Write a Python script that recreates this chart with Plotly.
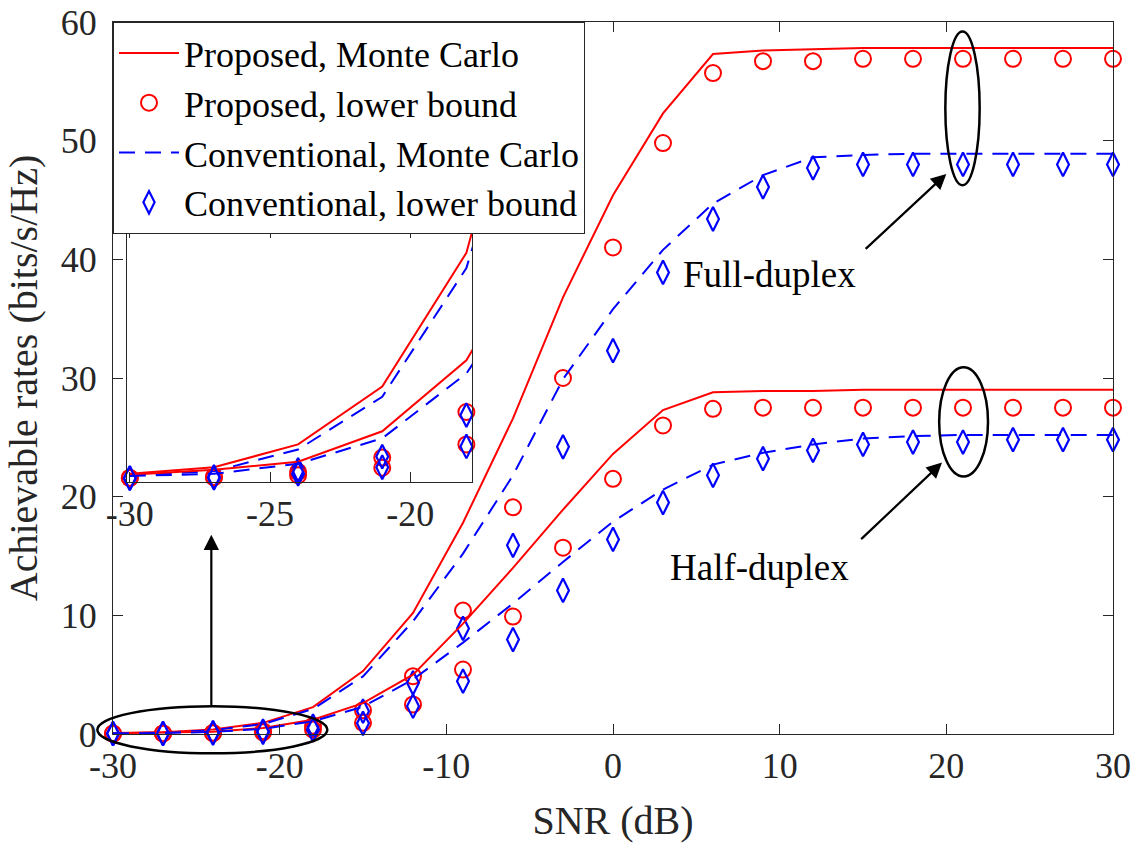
import plotly.graph_objects as go

# ---------------- data ----------------
snr_db = [-30, -27, -24, -21, -18, -15, -12, -9, -6, -3, 0, 3, 6, 9, 12, 15, 18, 21, 24, 27, 30]

# Full-duplex
fd_prop_mc = [0.08, 0.145, 0.37, 0.94, 2.26, 5.3, 10.2, 17.8, 26.6, 36.8, 45.4, 52.3, 57.3, 57.6, 57.7,
              57.8, 57.8, 57.8, 57.8, 57.8, 57.8]
fd_prop_lb = [0.04, 0.05, 0.10, 0.24, 0.69, 2.0, 4.87, 10.4, 19.1, 30.0, 41.0, 49.8, 55.7, 56.7, 56.7,
              56.9, 56.9, 56.9, 56.9, 56.9, 56.9]
fd_conv_mc = [0.066, 0.105, 0.32, 0.84, 2.11, 4.85, 9.5, 15.2, 21.8, 29.9, 35.8, 40.8, 44.7, 47.1, 48.6,
              48.8, 48.9, 48.9, 48.9, 48.9, 48.9]
fd_conv_lb = [0.04, 0.05, 0.12, 0.25, 0.66, 1.92, 4.31, 8.9, 15.9, 24.2, 32.3, 38.9, 43.4, 46.1, 47.7,
              48.0, 48.0, 48.0, 48.0, 48.0, 48.0]

# Half-duplex
hd_prop_mc = [0.072, 0.12, 0.2, 0.5, 1.2, 2.6, 5.0, 9.3, 14.0, 18.9, 23.6, 27.3, 28.8, 28.9, 28.9,
              29.0, 29.0, 29.0, 29.0, 29.0, 29.0]
hd_prop_lb = [0.04, 0.045, 0.066, 0.14, 0.37, 0.94, 2.49, 5.43, 9.9, 15.7, 21.5, 26.0, 27.4, 27.5, 27.5,
              27.5, 27.5, 27.5, 27.5, 27.5, 27.5]
hd_conv_mc = [0.059, 0.08, 0.18, 0.43, 1.07, 2.3, 4.6, 7.7, 11.0, 14.5, 17.9, 20.6, 22.7, 23.7, 24.4,
              24.9, 25.1, 25.2, 25.2, 25.2, 25.2]
hd_conv_lb = [0.035, 0.04, 0.08, 0.145, 0.35, 0.9, 2.34, 4.45, 7.96, 12.1, 16.4, 19.5, 21.8, 23.2, 23.9,
              24.4, 24.6, 24.6, 24.8, 24.8, 24.8]

legend_names = ["Proposed, Monte Carlo", "Proposed, lower bound",
                "Conventional, Monte Carlo", "Conventional, lower bound"]

x_tickvals = [-30, -20, -10, 0, 10, 20, 30]
x_ticktext = ["-30", "-20", "-10", "0", "10", "20", "30"]
y_tickvals = [0, 10, 20, 30, 40, 50, 60]
inset_x_tickvals = [-30, -25, -20]
inset_x_ticktext = ["-30", "-25", "-20"]

# ---------------- style ----------------
XR = [-30, 30]
YR = [0, 60]
IXR = [-30.1, -17.8]
IYR = [0, 2.5]
RED = "#ff0000"
BLUE = "#0000ff"
AX = "#262626"
FONT = "Liberation Serif"
LW = 2
DASH = "16px,10px"

fig = go.Figure()


def add_set(xa, ya, show_legend, marker_filter=None):
    groups = [(fd_prop_mc, fd_prop_lb, fd_conv_mc, fd_conv_lb),
              (hd_prop_mc, hd_prop_lb, hd_conv_mc, hd_conv_lb)]
    for gi, (pmc, plb, cmc, clb) in enumerate(groups):
        sl = show_legend and gi == 0
        if marker_filter is None:
            keep = list(range(len(snr_db)))
        else:
            keep = [i for i, v in enumerate(snr_db) if marker_filter(v)]
        mx = [snr_db[i] for i in keep]
        fig.add_trace(go.Scatter(x=snr_db, y=pmc, mode="lines", name=legend_names[0],
                                 line=dict(color=RED, width=LW), showlegend=sl,
                                 xaxis=xa, yaxis=ya, legendrank=1))
        fig.add_trace(go.Scatter(x=mx, y=[plb[i] for i in keep], mode="markers", name=legend_names[1],
                                 marker=dict(symbol="circle-open", size=16, color=RED,
                                             line=dict(width=2, color=RED)),
                                 showlegend=sl, cliponaxis=False, xaxis=xa, yaxis=ya, legendrank=2))
        fig.add_trace(go.Scatter(x=snr_db, y=cmc, mode="lines", name=legend_names[2],
                                 line=dict(color=BLUE, width=LW, dash=DASH), showlegend=sl,
                                 xaxis=xa, yaxis=ya, legendrank=3))
        fig.add_trace(go.Scatter(x=mx, y=[clb[i] for i in keep], mode="markers", name=legend_names[3],
                                 marker=dict(symbol="diamond-tall-open", size=17, color=BLUE,
                                             line=dict(width=2.2, color=BLUE)),
                                 showlegend=sl, cliponaxis=False, xaxis=xa, yaxis=ya, legendrank=4))


add_set("x", "y", True)
add_set("x2", "y2", False, marker_filter=lambda v: IXR[0] <= v <= IXR[1])


def px(v):
    return (v - XR[0]) / (XR[1] - XR[0])


def py(v):
    return (v - YR[0]) / (YR[1] - YR[0])


# ellipses (data-space extents converted to paper space so they are not clipped)
ellipses = [(19.94, 46.25, 22.0, 59.2), (19.57, 21.7, 22.5, 30.9), (-30.94, -1.63, -17.14, 2.34)]
shapes = []
for x0, y0, x1, y1 in ellipses:
    shapes.append(dict(type="circle", xref="paper", yref="paper", x0=px(x0), x1=px(x1),
                       y0=py(y0), y1=py(y1), line=dict(color="black", width=2.5)))

annotations = [
    dict(x=20.0, y=47.2, ax=15.07, ay=40.76, xref="x", yref="y", axref="x", ayref="y",
         showarrow=True, arrowhead=2, arrowsize=1.4, arrowwidth=2.2, arrowcolor="black", text=""),
    dict(x=19.74, y=22.87, ax=14.8, ay=16.3, xref="x", yref="y", axref="x", ayref="y",
         showarrow=True, arrowhead=2, arrowsize=1.4, arrowwidth=2.2, arrowcolor="black", text=""),
    dict(x=-24.1, y=16.8, ax=-24.1, ay=2.3, xref="x", yref="y", axref="x", ayref="y",
         showarrow=True, arrowhead=2, arrowsize=1.4, arrowwidth=2.2, arrowcolor="black", text=""),
    dict(x=9.4, y=38.7, xref="x", yref="y", text="Full-duplex", showarrow=False,
         font=dict(family=FONT, size=37, color="black")),
    dict(x=8.8, y=14.0, xref="x", yref="y", text="Half-duplex", showarrow=False,
         font=dict(family=FONT, size=37, color="black")),
]

axis_common = dict(showline=True, linecolor=AX, linewidth=1, mirror="ticks", ticks="inside",
                   tickcolor=AX, tickwidth=1, ticklen=10, showgrid=False, zeroline=False,
                   automargin=False, tickfont=dict(family=FONT, size=36, color=AX))

fig.update_layout(
    width=1139, height=846,
    margin=dict(l=113, r=26, t=22, b=112),
    paper_bgcolor="white", plot_bgcolor="white",
    font=dict(family=FONT, color=AX),
    xaxis=dict(range=XR, tickvals=x_tickvals, ticktext=x_ticktext, domain=[0, 1],
               title=dict(text="SNR (dB)", font=dict(family=FONT, size=40, color=AX), standoff=20),
               ticklabelstandoff=0, **axis_common),
    yaxis=dict(range=YR, tickvals=y_tickvals, domain=[0, 1],
               title=dict(text="Achievable rates (bits/s/Hz)", font=dict(family=FONT, size=40, color=AX),
                          standoff=10),
               ticklabelstandoff=8, **axis_common),
    xaxis2=dict(range=IXR, tickvals=inset_x_tickvals, ticktext=inset_x_ticktext, anchor="y2",
                domain=[0.014, 0.359], ticklabelstandoff=0, **axis_common),
    yaxis2=dict(range=IYR, anchor="x2", domain=[0.354, 0.71], showline=True, linecolor=AX, linewidth=1,
                mirror=True, ticks="", showticklabels=False, showgrid=False, zeroline=False,
                automargin=False),
    legend=dict(x=0, y=1, xanchor="left", yanchor="top", bgcolor="white", bordercolor=AX, borderwidth=1,
                font=dict(family=FONT, size=36, color="black"), itemwidth=60, tracegroupgap=0,
                traceorder="normal"),
    shapes=shapes,
    annotations=annotations,
)

fig.write_html("out.html")
